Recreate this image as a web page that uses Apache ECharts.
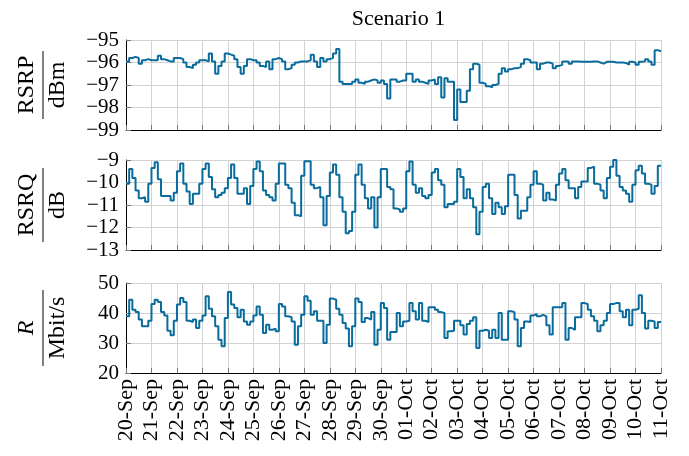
<!DOCTYPE html>
<html>
<head>
<meta charset="utf-8">
<script src="https://cdn.jsdelivr.net/npm/echarts@6/dist/echarts.min.js"></script>
<style>
  html, body { margin: 0; padding: 0; background: #fff; }
  #chart { width: 689px; height: 456px; }
</style>
</head>
<body>
<div id="chart"></div>
<script>
// ---- data (one value per 3-hour step, 8 steps per day) ----
const dateLabels = ['20-Sep','21-Sep','22-Sep','23-Sep','24-Sep','25-Sep','26-Sep','27-Sep','28-Sep','29-Sep','30-Sep',
  '01-Oct','02-Oct','03-Oct','04-Oct','05-Oct','06-Oct','07-Oct','08-Oct','09-Oct','10-Oct','11-Oct'];
const stepsPerDay = 8;

const rsrp = [
  -95.95,-95.8,-95.75,-95.8,-96.05,-95.9,-95.85,-95.9,
  -95.9,-95.9,-95.7,-95.85,-95.9,-95.95,-95.95,-95.8,
  -95.8,-95.85,-96.0,-96.2,-96.25,-96.1,-96.0,-95.9,
  -95.9,-95.95,-95.6,-95.95,-96.5,-96.15,-95.95,-95.6,
  -95.65,-95.7,-95.85,-96.2,-96.5,-96.15,-95.85,-95.9,
  -95.9,-96.0,-96.15,-96.2,-95.95,-96.3,-95.85,-95.8,
  -95.85,-95.95,-96.3,-96.25,-96.1,-96.0,-95.95,-95.95,
  -95.95,-95.9,-95.65,-95.95,-96.2,-95.8,-95.95,-95.85,
  -95.8,-95.6,-95.4,-96.85,-96.95,-96.95,-96.95,-96.85,
  -96.75,-96.9,-96.95,-96.85,-96.8,-96.75,-96.8,-96.9,
  -96.8,-96.95,-97.6,-96.75,-96.75,-96.85,-96.8,-96.8,
  -96.5,-96.5,-96.85,-96.75,-96.85,-96.9,-96.95,-96.8,
  -96.75,-96.95,-96.65,-97.55,-96.7,-96.85,-96.85,-98.55,
  -97.2,-97.75,-97.75,-97.25,-96.3,-96.05,-96.1,-96.9,
  -96.95,-97.05,-97.1,-97.0,-96.95,-96.5,-96.25,-96.4,
  -96.3,-96.25,-96.25,-96.2,-96.05,-95.85,-95.9,-96.0,
  -96.0,-96.3,-96.05,-96.0,-96.0,-96.05,-96.25,-96.15,
  -96.1,-95.95,-95.95,-96.05,-95.95,-95.95,-95.97,-95.97,
  -95.97,-95.97,-95.95,-95.95,-96.0,-96.05,-95.97,-95.97,
  -95.97,-96.0,-96.0,-96.0,-96.02,-96.1,-95.97,-96.0,
  -96.1,-95.97,-95.95,-95.85,-95.95,-96.1,-95.45,-95.5
];

const rsrq = [
  -10.05,-9.4,-9.8,-10.35,-10.7,-10.65,-10.85,-10.05,
  -9.35,-9.1,-9.85,-10.6,-10.6,-10.6,-10.8,-10.45,
  -9.5,-9.15,-10.05,-10.4,-10.95,-10.5,-10.5,-10.05,
  -9.4,-9.15,-9.75,-10.3,-10.65,-10.55,-10.45,-10.25,
  -9.8,-9.2,-9.8,-10.5,-10.5,-10.25,-10.95,-10.15,
  -9.4,-9.07,-9.5,-10.35,-10.55,-10.65,-10.8,-10.05,
  -9.15,-9.15,-10.1,-10.25,-10.9,-11.45,-11.5,-9.7,
  -9.05,-9.05,-10.1,-10.25,-10.2,-10.65,-11.9,-10.6,
  -9.55,-9.2,-9.65,-10.65,-11.3,-12.25,-12.15,-11.3,
  -9.65,-9.2,-10.1,-10.7,-11.15,-10.65,-12.0,-10.65,
  -9.4,-9.4,-10.2,-10.3,-11.15,-11.2,-11.3,-11.15,
  -9.5,-9.07,-10.1,-10.45,-10.25,-10.6,-10.7,-10.55,
  -9.55,-9.4,-9.9,-10.1,-11.1,-10.95,-10.95,-10.85,
  -9.4,-9.75,-10.7,-10.3,-10.7,-11.1,-12.3,-11.3,
  -10.2,-10.05,-10.7,-11.4,-10.9,-11.1,-11.4,-11.05,
  -9.65,-9.65,-10.55,-11.6,-11.25,-11.25,-10.65,-10.1,
  -9.5,-10.05,-10.1,-10.8,-10.45,-10.75,-10.8,-10.1,
  -9.6,-9.4,-9.9,-10.25,-10.25,-10.7,-10.2,-9.95,
  -9.95,-9.35,-9.3,-10.05,-10.1,-10.35,-10.7,-9.8,
  -9.3,-9.0,-9.7,-10.2,-10.35,-10.5,-10.85,-10.1,
  -9.45,-9.25,-9.6,-10.05,-10.1,-10.5,-10.15,-9.25
];

const rate = [
  38.9,44.4,41.1,40.3,37.8,35.6,35.6,37.4,
  43.0,44.4,43.7,40.3,39.2,34.1,32.6,37.4,
  42.8,45.0,43.7,37.4,37.0,37.8,35.0,37.4,
  39.2,45.6,41.4,38.9,35.6,31.1,28.9,38.3,
  47.0,42.8,41.7,38.6,41.1,37.2,36.1,37.2,
  39.2,42.2,39.4,33.3,36.1,34.4,34.8,33.9,
  43.0,42.2,38.9,38.6,37.2,29.4,35.6,39.4,
  45.6,44.1,39.4,40.6,37.4,37.4,30.0,36.1,
  44.8,44.4,41.4,39.4,36.7,34.8,28.9,35.6,
  44.8,43.7,37.0,38.3,37.8,40.3,29.4,34.4,
  43.3,41.7,31.1,33.7,33.7,40.0,35.6,37.2,
  37.4,43.3,40.6,37.8,43.3,37.4,37.0,41.9,
  41.9,41.1,40.3,40.0,31.7,33.9,34.1,37.4,
  37.4,35.9,32.8,36.3,37.4,38.6,28.3,34.1,
  34.4,34.1,31.7,34.4,31.7,40.0,31.1,31.1,
  40.6,40.3,37.8,28.9,35.0,37.2,37.0,39.2,
  39.7,38.9,39.4,38.9,35.9,32.8,41.9,41.9,
  41.9,43.3,31.1,35.0,34.4,38.6,38.6,43.3,
  43.0,41.1,38.9,37.4,33.9,35.9,37.4,40.0,
  43.0,43.3,43.3,40.6,38.6,41.1,35.9,41.1,
  41.4,45.9,40.0,34.8,37.4,37.2,35.0,37.0
];

const panelTitles = [
  { num: 'RSRP', den: 'dBm', italic: false },
  { num: 'RSRQ', den: 'dB', italic: false },
  { num: 'R', den: 'Mbit/s', italic: true }
];
const yRanges = [
  { min: -99, max: -95, interval: 1 },
  { min: -13, max: -9, interval: 1 },
  { min: 20, max: 50, interval: 10 }
];
const chartTitle = 'Scenario 1';

// ---- build ----
const FONT = 'Liberation Serif';
const LINE_COLOR = '#0a6c9c';
const nDays = dateLabels.length - 1;

function toPairs(vals) {
  const pts = vals.map((v, i) => [i / stepsPerDay, v]);
  pts.push([nDays, vals[vals.length - 1]]);
  return pts;
}
const seriesValues = [rsrp, rsrq, rate];

const grids = [
  { left: 126, right: 28, top: 40, height: 90 },
  { left: 126, right: 28, top: 160, height: 90 },
  { left: 126, right: 28, top: 283, height: 90 }
];

const fmtNum = v => (v < 0 ? '\u2212' + Math.abs(v) : String(v));

const xAxes = grids.map((g, i) => ({
  type: 'value', gridIndex: i, min: 0, max: nDays, interval: 1,
  axisLine: { show: true, onZero: false, lineStyle: { color: '#000', width: 1 } },
  axisTick: { show: true, inside: true, length: 5, lineStyle: { color: '#777' } },
  splitLine: { show: true, lineStyle: { color: '#d2d2d2', width: 1 } },
  axisLabel: {
    show: i === 2, rotate: 90, margin: 6, color: '#000',
    fontFamily: FONT, fontSize: 22,
    formatter: v => dateLabels[Math.round(v)] || ''
  }
}));

const yAxes = grids.map((g, i) => ({
  type: 'value', gridIndex: i,
  min: yRanges[i].min, max: yRanges[i].max, interval: yRanges[i].interval,
  axisLine: { show: true, lineStyle: { color: '#000', width: 1 } },
  axisTick: { show: true, inside: true, length: 5, lineStyle: { color: '#777' } },
  splitLine: { show: true, lineStyle: { color: '#d2d2d2', width: 1 } },
  axisLabel: { color: '#000', fontFamily: FONT, fontSize: 21, margin: 7, formatter: fmtNum }
}));

const series = seriesValues.map((vals, i) => ({
  type: 'line', xAxisIndex: i, yAxisIndex: i,
  data: toPairs(vals), step: 'end', showSymbol: false, symbol: 'none',
  lineStyle: { color: LINE_COLOR, width: 2 },
  animation: false
}));

// fraction-style axis names
const fracX = { num: 27, bar: 43, den: 58 };
const barLens = [68, 74, 76];
const graphics = [];
grids.forEach((g, i) => {
  const cy = g.top + g.height / 2;
  const t = panelTitles[i];
  graphics.push({
    type: 'text', x: fracX.num, y: cy, rotation: Math.PI / 2,
    style: { text: t.num, fill: '#000', font: (t.italic ? 'italic ' : '') + '24px "' + FONT + '"',
             textAlign: 'center', textVerticalAlign: 'middle' }
  });
  graphics.push({
    type: 'line', shape: { x1: fracX.bar, y1: cy - barLens[i] / 2, x2: fracX.bar, y2: cy + barLens[i] / 2 },
    style: { stroke: '#000', lineWidth: 1 }
  });
  graphics.push({
    type: 'text', x: fracX.den, y: cy, rotation: Math.PI / 2,
    style: { text: t.den, fill: '#000', font: '24px "' + FONT + '"',
             textAlign: 'center', textVerticalAlign: 'middle' }
  });
});

const chart = echarts.init(document.getElementById('chart'), null, { renderer: 'canvas' });
chart.setOption({
  backgroundColor: '#fff',
  animation: false,
  title: {
    text: chartTitle, left: 393.5, top: 3, textAlign: 'center',
    textStyle: { fontFamily: FONT, fontSize: 22, fontWeight: 'normal', color: '#000' }
  },
  grid: grids,
  xAxis: xAxes,
  yAxis: yAxes,
  series: series,
  graphic: graphics
});
</script>
</body>
</html>
